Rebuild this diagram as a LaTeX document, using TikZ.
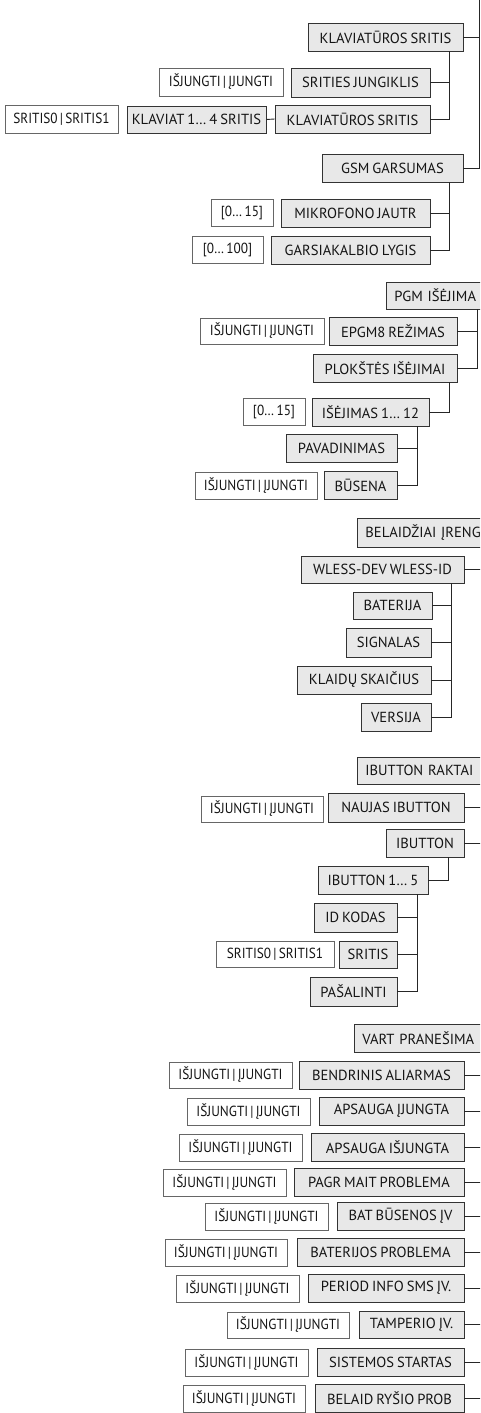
\documentclass[tikz,border=0pt]{standalone}
\usepackage{fontspec}
\setmainfont{PT Sans}
\newfontfamily\wfontfam[FakeStretch=0.91]{PT Sans}
\newcommand\gfnt{\fontsize{14.6}{16}\selectfont\spaceskip=3pt plus 1pt\relax}
\newcommand\wfnt{\wfontfam\fontsize{14.6}{16}\selectfont\spaceskip=2.2pt plus 1pt\relax}
\tikzset{
  basebox/.style={inner sep=0pt, text=black!92},
  gbox/.style={basebox, draw=black!80, fill=black!9, line width=0.8pt, font=\gfnt},
  wbox/.style={basebox, draw=black!60, fill=white, line width=0.7pt, font=\wfnt},
  conn/.style={draw=black!85, line width=0.9pt},
}
\newcommand\bx[7]{%
  \node[#1, minimum width={(#4-#3)*1pt}, minimum height={(#6-#5)*1pt}] (#2) at ({(#3+#4)/2},{(#5+#6)/2}) {#7};}
\newcommand\cbx[5]{%
  \node[gbox, anchor=west, minimum height={(#4-#3)*1pt}, text width=160pt, align=left, inner xsep=8pt] (#1) at (#2,{(#3+#4)/2}) {#5};}
\begin{document}
\begin{tikzpicture}[x=1pt,y=-1pt]
\useasboundingbox (0,0) rectangle (480,1413);
\clip (0,0) rectangle (480,1413);
\coordinate (R) at (479.5,0);
\coordinate (E) at (484,0);
\coordinate (tA) at (449,0);
\coordinate (tB) at (477.5,0);
\coordinate (tC) at (417,0);
\coordinate (tD) at (451,0);
\coordinate (tE) at (448,0);
% ---------- section 1
\bx{gbox}{ks1}{308}{463}{23}{51}{KLAVIATŪROS SRITIS}
\bx{gbox}{sj}{291}{430}{68}{97}{SRITIES JUNGIKLIS}
\bx{wbox}{w1}{159}{283}{68}{96}{IŠJUNGTI | ĮJUNGTI}
\bx{gbox}{ks2}{275}{430}{105}{133}{KLAVIATŪROS SRITIS}
\bx{gbox}{k14}{127}{266}{106}{133}{KLAVIAT 1… 4 SRITIS}
\bx{wbox}{s01}{5}{118}{105}{133}{SRITIS0 | SRITIS1}
\bx{gbox}{gsm}{322}{463}{154}{182}{GSM GARSUMAS}
\bx{gbox}{mj}{281}{430}{199}{227}{MIKROFONO JAUTR}
\bx{wbox}{wa}{211}{273}{199}{226}{[0… 15]}
\bx{gbox}{gl}{271}{430}{236}{264}{GARSIAKALBIO LYGIS}
\bx{wbox}{wb}{192}{263}{236}{263}{[0… 100]}
\draw[conn] (R) |- (gsm.east);
\draw[conn] (ks1.east) -- (ks1.east -| R);
\draw[conn] (ks1.south -| tA) |- (ks2.east);
\draw[conn] (sj.east) -- (sj.east -| tA);
\draw[conn] (k14.east) -- (ks2.west);
\draw[conn] (gsm.south -| tA) |- (gl.east);
\draw[conn] (mj.east) -- (mj.east -| tA);
% ---------- section 2
\cbx{pgm}{386}{282}{309}{PGM IŠĖJIMA}
\bx{gbox}{ep}{329}{457}{317}{345}{EPGM8 REŽIMAS}
\bx{wbox}{w2}{200}{324}{318}{344}{IŠJUNGTI | ĮJUNGTI}
\bx{gbox}{pl}{313}{457}{354}{382}{PLOKŠTĖS IŠĖJIMAI}
\bx{gbox}{is}{312}{429}{398}{426}{IŠĖJIMAS 1… 12}
\bx{wbox}{wc}{243}{305}{398}{425}{[0… 15]}
\bx{gbox}{pav}{286}{397}{434}{462}{PAVADINIMAS}
\bx{gbox}{bus}{324}{397}{471}{499}{BŪSENA}
\bx{wbox}{w3}{195}{317}{472}{499}{IŠJUNGTI | ĮJUNGTI}
\draw[conn] (pgm.south -| tB) |- (pl.east);
\draw[conn] (ep.east) -- (ep.east -| tB);
\draw[conn] (pl.south -| tA) |- (is.east);
\draw[conn] (is.south -| tC) |- (bus.east);
\draw[conn] (pav.east) -- (pav.east -| tC);
% ---------- section 3
\cbx{bel}{357}{518}{547}{BELAIDŽIAI ĮRENG}
\bx{gbox}{wl}{301}{464}{556}{583}{WLESS-DEV WLESS-ID}
\bx{gbox}{bat}{353}{432}{592}{619}{BATERIJA}
\bx{gbox}{sig}{346}{431}{628}{657}{SIGNALAS}
\bx{gbox}{kl}{297}{431}{666}{694}{KLAIDŲ SKAIČIUS}
\bx{gbox}{ver}{361}{431}{703}{731}{VERSIJA}
\draw[conn] (wl.east) -- (wl.east -| E);
\draw[conn] (wl.south -| tD) |- (ver.east);
\draw[conn] (bat.east) -- (bat.east -| tD);
\draw[conn] (sig.east) -- (sig.east -| tD);
\draw[conn] (kl.east) -- (kl.east -| tD);
% ---------- section 4
\cbx{ibr}{357}{757}{784}{IBUTTON RAKTAI}
\bx{gbox}{nib}{328}{464}{793}{822}{NAUJAS IBUTTON}
\bx{wbox}{w4}{201}{323}{796}{822}{IŠJUNGTI | ĮJUNGTI}
\bx{gbox}{ib}{386}{464}{829}{857}{IBUTTON}
\bx{gbox}{ib15}{318}{428}{866}{894}{IBUTTON 1… 5}
\bx{gbox}{idk}{314}{397}{903}{932}{ID KODAS}
\bx{gbox}{sr}{339}{397}{941}{968}{SRITIS}
\bx{wbox}{s01b}{216}{334}{941}{967}{SRITIS0 | SRITIS1}
\bx{gbox}{pas}{310}{397}{977}{1006}{PAŠALINTI}
\draw[conn] (nib.east) -- (nib.east -| E);
\draw[conn] (ib.east) -- (ib.east -| E);
\draw[conn] (ib.south -| tE) |- (ib15.east);
\draw[conn] (ib15.south -| tC) |- (pas.east);
\draw[conn] (idk.east) -- (idk.east -| tC);
\draw[conn] (sr.east) -- (sr.east -| tC);
% ---------- section 5
\cbx{vart}{354}{1024}{1052}{VART PRANEŠIMA}
\bx{gbox}{v1}{299}{464}{1061}{1089}{BENDRINIS ALIARMAS}
\bx{wbox}{x1}{169}{292}{1062}{1088}{IŠJUNGTI | ĮJUNGTI}
\bx{gbox}{v2}{319}{464}{1097}{1125}{APSAUGA ĮJUNGTA}
\bx{wbox}{x2}{187}{310}{1098}{1125}{IŠJUNGTI | ĮJUNGTI}
\bx{gbox}{v3}{311}{464}{1133}{1161}{APSAUGA IŠJUNGTA}
\bx{wbox}{x3}{179}{302}{1134}{1161}{IŠJUNGTI | ĮJUNGTI}
\bx{gbox}{v4}{294}{464}{1168}{1196}{PAGR MAIT PROBLEMA}
\bx{wbox}{x4}{163}{286}{1169}{1196}{IŠJUNGTI | ĮJUNGTI}
\bx{gbox}{v5}{337}{464}{1202}{1230}{BAT BŪSENOS ĮV}
\bx{wbox}{x5}{205}{328}{1203}{1230}{IŠJUNGTI | ĮJUNGTI}
\bx{gbox}{v6}{297}{464}{1238}{1266}{BATERIJOS PROBLEMA}
\bx{wbox}{x6}{165}{287}{1239}{1266}{IŠJUNGTI | ĮJUNGTI}
\bx{gbox}{v7}{308}{464}{1274}{1302}{PERIOD INFO SMS ĮV.}
\bx{wbox}{x7}{176}{299}{1275}{1302}{IŠJUNGTI | ĮJUNGTI}
\bx{gbox}{v8}{359}{464}{1311}{1338}{TAMPERIO ĮV.}
\bx{wbox}{x8}{227}{349}{1312}{1338}{IŠJUNGTI | ĮJUNGTI}
\bx{gbox}{v9}{317}{464}{1348}{1376}{SISTEMOS STARTAS}
\bx{wbox}{x9}{185}{308}{1349}{1376}{IŠJUNGTI | ĮJUNGTI}
\bx{gbox}{v10}{315}{464}{1384}{1412}{BELAID RYŠIO PROB}
\bx{wbox}{x10}{183}{305}{1385}{1412}{IŠJUNGTI | ĮJUNGTI}
\foreach \n in {v1,v2,v3,v4,v5,v6,v7,v8,v9,v10}
  \draw[conn] (\n.east) -- (\n.east -| E);
\end{tikzpicture}
\end{document}
